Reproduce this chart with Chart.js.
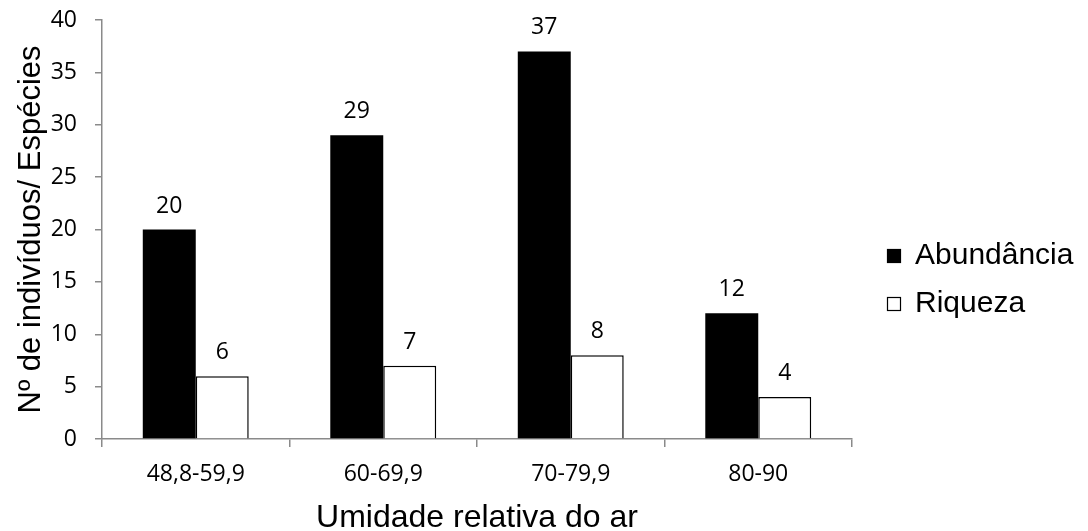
<!DOCTYPE html>
<html lang="pt">
<head>
<meta charset="utf-8">
<title>Umidade relativa do ar</title>
<script src="https://cdn.jsdelivr.net/npm/chart.js@4/dist/chart.umd.min.js"></script>
<style>
  html, body { margin: 0; padding: 0; background: #ffffff; }
  #wrap { position: relative; width: 1088px; height: 531px; }
</style>
</head>
<body>
<div id="wrap"><canvas id="chart"></canvas></div>
<script>
// Faixas de umidade relativa do ar (%)
const categories = ['48,8-59,9', '60-69,9', '70-79,9', '80-90'];
// Número de indivíduos por faixa
const abundancia = [20, 29, 37, 12];
// Número de espécies por faixa
const riqueza = [6, 7, 8, 4];
// Eixo Y: 0 a 40, de 5 em 5
const yMin = 0;
const yMax = 40;
const yStep = 5;

const AXIS_GRAY = '#8a8a8a';
const TICK_FONT = { family: '"Open Sans", sans-serif', size: 23 };
const TITLE_FAMILY = '"Liberation Sans", Arial, sans-serif';

// Rótulos de valor acima de cada barra
const valueLabels = {
  id: 'valueLabels',
  afterDatasetsDraw(chart) {
    const ctx = chart.ctx;
    ctx.save();
    ctx.font = TICK_FONT.size + 'px ' + TICK_FONT.family;
    ctx.fillStyle = '#000000';
    ctx.textAlign = 'center';
    ctx.textBaseline = 'alphabetic';
    chart.data.datasets.forEach((ds, i) => {
      const meta = chart.getDatasetMeta(i);
      meta.data.forEach((bar, j) => {
        ctx.fillText(String(ds.data[j]), bar.x, bar.y - 17);
      });
    });
    ctx.restore();
  }
};

// Legenda à direita do gráfico
const sideLegend = {
  id: 'sideLegend',
  afterDraw(chart) {
    const ctx = chart.ctx;
    ctx.save();
    ctx.font = '30px ' + TITLE_FAMILY;
    ctx.textBaseline = 'alphabetic';
    ctx.textAlign = 'left';
    chart.data.datasets.forEach((ds, i) => {
      const boxTop = 249 + i * 48;
      ctx.fillStyle = ds.backgroundColor;
      ctx.fillRect(887, boxTop, 14, 14);
      ctx.strokeStyle = '#000000';
      ctx.lineWidth = 1.2;
      ctx.strokeRect(887.5, boxTop + 0.5, 13, 13);
      ctx.fillStyle = '#000000';
      ctx.fillText(ds.label, 915, boxTop + 15);
    });
    ctx.restore();
  }
};

new Chart(document.getElementById('chart'), {
  type: 'bar',
  data: {
    labels: categories,
    datasets: [
      {
        label: 'Abundância',
        data: abundancia,
        backgroundColor: '#000000',
        borderColor: '#000000',
        borderWidth: 0
      },
      {
        label: 'Riqueza',
        data: riqueza,
        backgroundColor: '#ffffff',
        borderColor: '#000000',
        borderWidth: 1.5
      }
    ]
  },
  options: {
    responsive: true,
    maintainAspectRatio: false,
    animation: false,
    events: [],
    layout: { padding: { left: 0, top: 20, right: 236, bottom: 0 } },
    datasets: {
      bar: { categoryPercentage: 0.565, barPercentage: 1.0 }
    },
    plugins: {
      legend: { display: false },
      tooltip: { enabled: false }
    },
    scales: {
      x: {
        grid: {
          offset: true,
          drawOnChartArea: false,
          drawTicks: true,
          tickLength: 8,
          color: AXIS_GRAY,
          lineWidth: 1.5
        },
        border: { display: true, color: AXIS_GRAY, width: 1.5 },
        ticks: { color: '#000000', font: TICK_FONT, padding: 14, maxRotation: 0 },
        title: {
          display: true,
          text: 'Umidade relativa do ar',
          color: '#000000',
          font: { family: TITLE_FAMILY, size: 32, lineHeight: 1 },
          padding: { top: 0, bottom: -3 }
        },
        afterFit(scale) { scale.height = 92; }
      },
      y: {
        min: yMin,
        max: yMax,
        ticks: { stepSize: yStep, color: '#000000', font: TICK_FONT, padding: 18 },
        grid: {
          drawOnChartArea: false,
          drawTicks: true,
          tickLength: 7,
          color: AXIS_GRAY,
          lineWidth: 1.5
        },
        border: { display: true, color: AXIS_GRAY, width: 1.5 },
        title: {
          display: true,
          text: 'Nº de indivíduos/ Espécies',
          color: '#000000',
          font: { family: TITLE_FAMILY, size: 31, lineHeight: 1 },
          padding: { top: 16, bottom: 0 }
        },
        afterFit(scale) {
          scale.width = 102;
          // keep the plot area at the layout padding, not pushed down by tick padding
          scale.paddingTop = 12;
          scale.paddingBottom = 12;
        }
      }
    }
  },
  plugins: [valueLabels, sideLegend]
});
</script>
</body>
</html>
